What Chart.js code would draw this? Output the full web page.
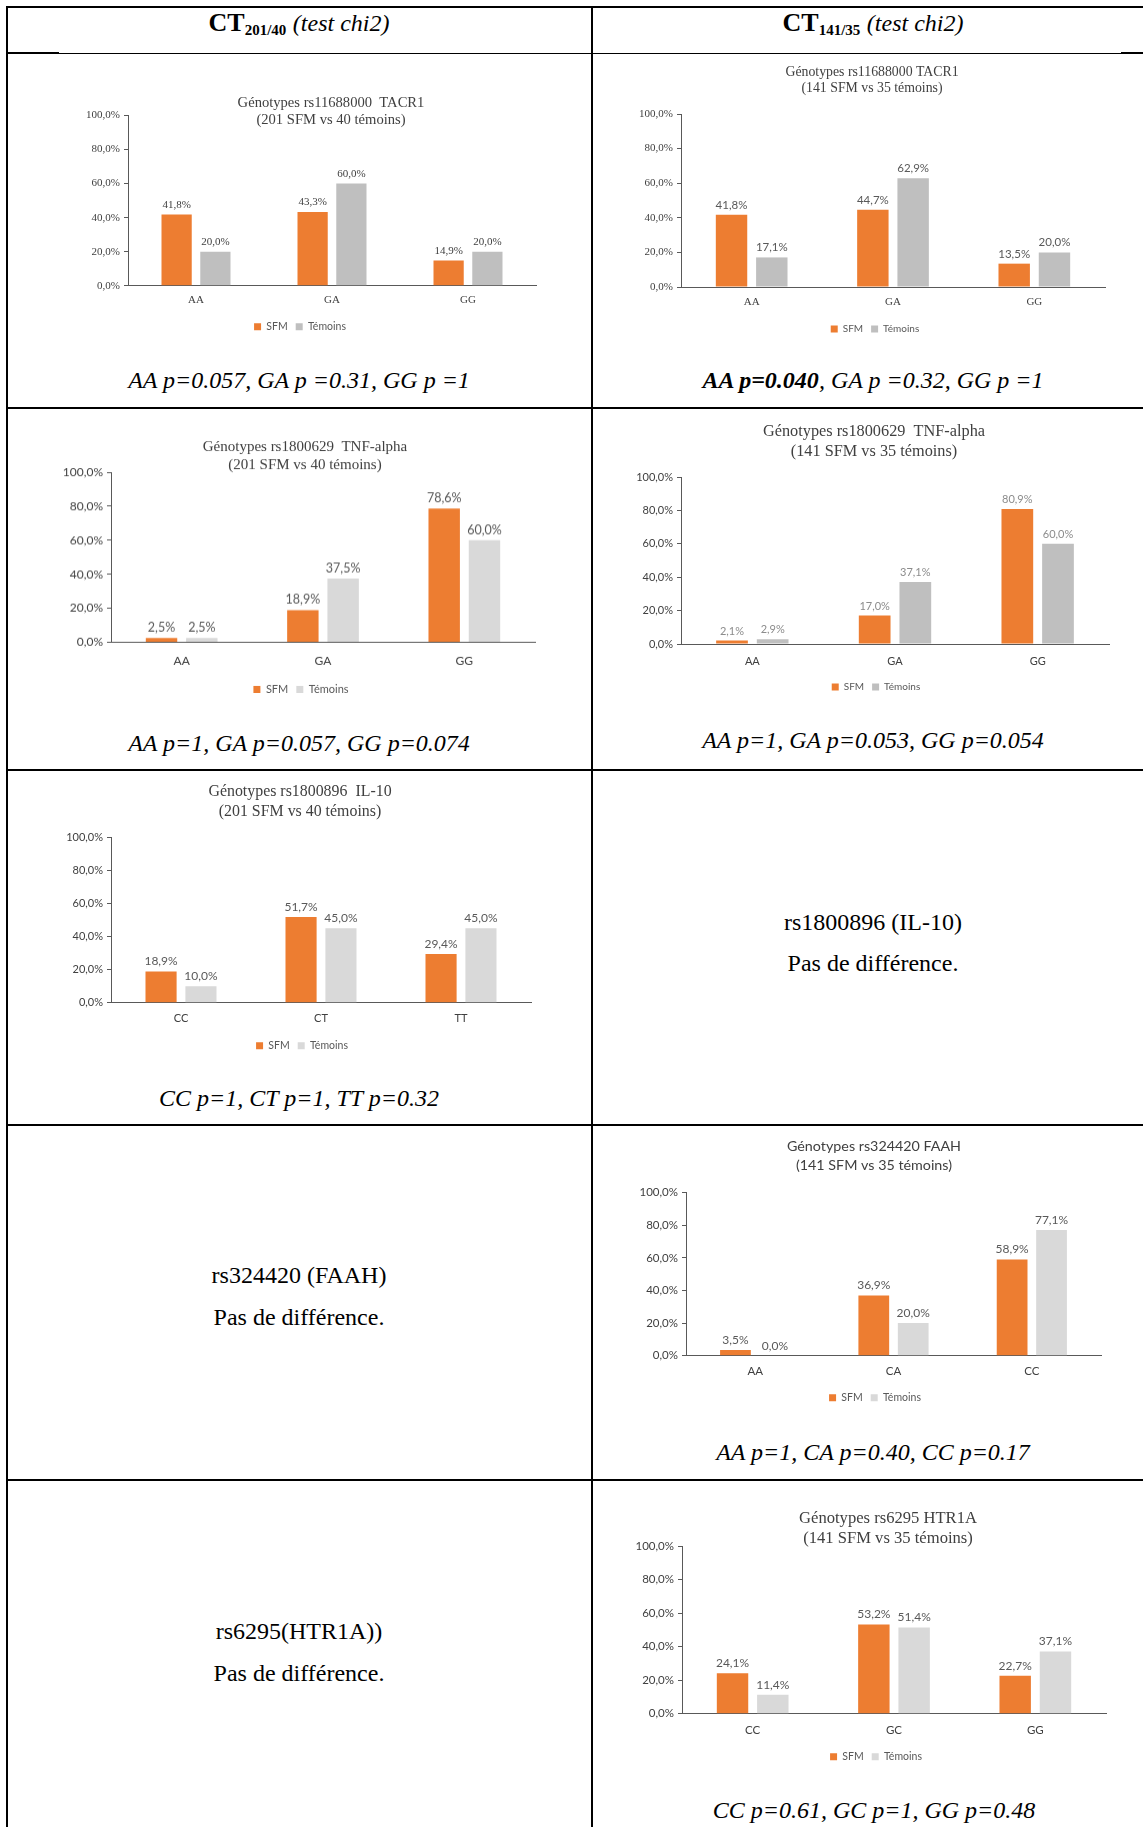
<!DOCTYPE html>
<html>
<head>
<meta charset="utf-8">
<script src="https://cdn.jsdelivr.net/npm/chart.js@4.4.1/dist/chart.umd.min.js"></script>
<style>
  body { margin: 0; background: #fff; }
  #page { position: relative; width: 1143px; height: 1827px; overflow: hidden; background: #fff; }
  .ln { position: absolute; background: #000; }
  .txt { position: absolute; transform: translate(-50%, -50%); white-space: nowrap;
         font-family: 'Liberation Serif', 'Times New Roman', serif; color: #000; }
  .hd { font-size: 26px; }
  .hd sub { font-size: 15px; vertical-align: -4px; }
  .hd i { font-weight: normal; font-size: 24px; }
  .pv { font-size: 24px; font-style: italic; }
  .cell { font-size: 24px; }
  canvas { position: absolute; }
</style>
</head>
<body>
<div id="page">
  <!-- table rules -->
  <div class="ln" style="left:6px;top:6px;width:1137px;height:2px"></div>
  <div class="ln" style="left:6px;top:6px;width:2px;height:1821px"></div>
  <div class="ln" style="left:591px;top:6px;width:2px;height:1821px"></div>
  <div class="ln" style="left:6px;top:53px;width:1137px;height:1px"></div>
  <div class="ln" style="left:6px;top:52px;width:53px;height:2px"></div>
  <div class="ln" style="left:1121px;top:52px;width:22px;height:2px"></div>
  <div class="ln" style="left:6px;top:407px;width:1137px;height:2px"></div>
  <div class="ln" style="left:6px;top:769px;width:1137px;height:2px"></div>
  <div class="ln" style="left:6px;top:1124px;width:1137px;height:2px"></div>
  <div class="ln" style="left:6px;top:1479px;width:1137px;height:2px"></div>

  <!-- header -->
  <div class="txt hd" style="left:299px;top:23px"><b>CT<sub>201/40</sub></b> <i>(test chi2)</i></div>
  <div class="txt hd" style="left:873px;top:23px"><b>CT<sub>141/35</sub></b> <i>(test chi2)</i></div>

  <!-- p-values -->
  <div class="txt pv" style="left:299px;top:380px">AA p=0.057, GA p =0.31, GG p =1</div>
  <div class="txt pv" style="left:873px;top:380px"><b>AA p=0.040</b>, GA p =0.32, GG p =1</div>
  <div class="txt pv" style="left:299px;top:743px">AA p=1, GA p=0.057, GG p=0.074</div>
  <div class="txt pv" style="left:873px;top:740px">AA p=1, GA p=0.053, GG p=0.054</div>
  <div class="txt pv" style="left:299px;top:1098px">CC p=1, CT p=1, TT p=0.32</div>
  <div class="txt pv" style="left:873px;top:1452px">AA p=1, CA p=0.40, CC p=0.17</div>
  <div class="txt pv" style="left:874px;top:1810px">CC p=0.61, GC p=1, GG p=0.48</div>

  <!-- text-only cells -->
  <div class="txt cell" style="left:873px;top:922px">rs1800896 (IL-10)</div>
  <div class="txt cell" style="left:873px;top:963px">Pas de différence.</div>
  <div class="txt cell" style="left:299px;top:1275px">rs324420 (FAAH)</div>
  <div class="txt cell" style="left:299px;top:1317px">Pas de différence.</div>
  <div class="txt cell" style="left:299px;top:1631px">rs6295(HTR1A))</div>
  <div class="txt cell" style="left:299px;top:1673px">Pas de différence.</div>
</div>

<script>
// --- DATA --- //
const seriesNames = ['SFM', 'Témoins'];
const yTicks = [0, 20, 40, 60, 80, 100];

const title1 = ['Génotypes rs11688000  TACR1', '(201 SFM vs 40 témoins)'];
const cats1 = ['AA', 'GA', 'GG'];
const sfm1 = [41.8, 43.3, 14.9];
const tem1 = [20.0, 60.0, 20.0];

const title2 = ['Génotypes rs11688000 TACR1', '(141 SFM vs 35 témoins)'];
const cats2 = ['AA', 'GA', 'GG'];
const sfm2 = [41.8, 44.7, 13.5];
const tem2 = [17.1, 62.9, 20.0];

const title3 = ['Génotypes rs1800629  TNF-alpha', '(201 SFM vs 40 témoins)'];
const cats3 = ['AA', 'GA', 'GG'];
const sfm3 = [2.5, 18.9, 78.6];
const tem3 = [2.5, 37.5, 60.0];

const title4 = ['Génotypes rs1800629  TNF-alpha', '(141 SFM vs 35 témoins)'];
const cats4 = ['AA', 'GA', 'GG'];
const sfm4 = [2.1, 17.0, 80.9];
const tem4 = [2.9, 37.1, 60.0];

const title5 = ['Génotypes rs1800896  IL-10', '(201 SFM vs 40 témoins)'];
const cats5 = ['CC', 'CT', 'TT'];
const sfm5 = [18.9, 51.7, 29.4];
const tem5 = [10.0, 45.0, 45.0];

const title6 = ['Génotypes rs324420 FAAH', '(141 SFM vs 35 témoins)'];
const cats6 = ['AA', 'CA', 'CC'];
const sfm6 = [3.5, 36.9, 58.9];
const tem6 = [0.0, 20.0, 77.1];

const title7 = ['Génotypes rs6295 HTR1A', '(141 SFM vs 35 témoins)'];
const cats7 = ['CC', 'GC', 'GG'];
const sfm7 = [24.1, 53.2, 22.7];
const tem7 = [11.4, 51.4, 37.1];

// --- STYLES --- //
const SERIF = "'Liberation Serif', 'Times New Roman', serif";
const SANS = "Lato, 'Open Sans', sans-serif";
const ORANGE = '#ED7D31';
const AXIS = '#595959';
const Y_W = 52;

const fmt = v => v.toFixed(1).replace('.', ',') + '%';

// value labels above each bar
const barLabels = {
  id: 'barLabels',
  afterDatasetsDraw(chart, args, opts) {
    const ctx = chart.ctx;
    ctx.save();
    ctx.font = opts.labelFont;
    ctx.fillStyle = opts.labelColor;
    ctx.textAlign = 'center';
    ctx.textBaseline = 'bottom';
    chart.data.datasets.forEach((ds, i) => {
      chart.getDatasetMeta(i).data.forEach((bar, j) => {
        ctx.fillText(fmt(ds.data[j]), bar.x, bar.y - 4);
      });
    });
    ctx.restore();
  }
};

// move title / legend so they are centred where the original had them
const boxShift = {
  id: 'boxShift',
  afterLayout(chart, args, opts) {
    [[chart.titleBlock, opts.titleCx], [chart.legend, opts.legendCx]].forEach(([box, cx]) => {
      if (!box || cx == null) return;
      const dx = cx - opts.canvasLeft - (box.left + box.right) / 2;
      box.left += dx;
      box.right += dx;
    });
  }
};
Chart.register(barLabels, boxShift);

// plot box (l, r, t, b), title / legend centres, title first line y, category y, legend y
const specs = [
  { title: title1, cats: cats1, sfm: sfm1, tem: tem1, grey: '#BFBFBF',
    l: 128, r: 536, t: 115, b: 286, titleCx: 331, legCx: 300,
    titleY: 103, titleFs: 14.6, titleLh: 17, titleFont: SERIF,
    catY: 300, legY: 327, tickFs: 11, tickFont: SERIF, catFs: 11, catFont: SERIF,
    labFont: '11px ' + SERIF, labColor: '#404040', legFs: 10.5 },
  { title: title2, cats: cats2, sfm: sfm2, tem: tem2, grey: '#BFBFBF',
    l: 681, r: 1105, t: 114, b: 287, titleCx: 872, legCx: 875,
    titleY: 72, titleFs: 13.8, titleLh: 16, titleFont: SERIF,
    catY: 302, legY: 329, tickFs: 11, tickFont: SERIF, catFs: 11, catFont: SERIF,
    labFont: '11.5px ' + SANS, labColor: '#595959', legFs: 10 },
  { title: title3, cats: cats3, sfm: sfm3, tem: tem3, grey: '#D9D9D9',
    l: 111, r: 535, t: 472, b: 642, titleCx: 305, legCx: 301,
    titleY: 447, titleFs: 15, titleLh: 18, titleFont: SERIF,
    catY: 661, legY: 689, tickFs: 12, tickFont: SANS, catFs: 12, catFont: SANS,
    labFont: '12.5px ' + SANS, labColor: '#595959', legFs: 11 },
  { title: title4, cats: cats4, sfm: sfm4, tem: tem4, grey: '#BFBFBF',
    l: 681, r: 1109, t: 477, b: 644, titleCx: 874, legCx: 876,
    titleY: 432, titleFs: 16.3, titleLh: 20, titleFont: SERIF,
    catY: 661, legY: 687, tickFs: 11, tickFont: SANS, catFs: 11, catFont: SANS,
    labFont: '11px ' + SANS, labColor: '#8C8C8C', legFs: 10 },
  { title: title5, cats: cats5, sfm: sfm5, tem: tem5, grey: '#D9D9D9',
    l: 111, r: 531, t: 837, b: 1003, titleCx: 300, legCx: 302,
    titleY: 792, titleFs: 15.9, titleLh: 20, titleFont: SERIF,
    catY: 1019, legY: 1046, tickFs: 11, tickFont: SANS, catFs: 11, catFont: SANS,
    labFont: '12px ' + SANS, labColor: '#595959', legFs: 10.5 },
  { title: title6, cats: cats6, sfm: sfm6, tem: tem6, grey: '#D9D9D9',
    l: 686, r: 1101, t: 1192, b: 1356, titleCx: 874, legCx: 875,
    titleY: 1146, titleFs: 14.3, titleLh: 19, titleFont: SANS,
    catY: 1372, legY: 1398, tickFs: 11.5, tickFont: SANS, catFs: 11.5, catFont: SANS,
    labFont: '12px ' + SANS, labColor: '#595959', legFs: 10.5 },
  { title: title7, cats: cats7, sfm: sfm7, tem: tem7, grey: '#D9D9D9',
    l: 682, r: 1106, t: 1546, b: 1714, titleCx: 888, legCx: 876,
    titleY: 1519, titleFs: 16.6, titleLh: 20, titleFont: SERIF,
    catY: 1731, legY: 1757, tickFs: 11.5, tickFont: SANS, catFs: 11.5, catFont: SANS,
    labFont: '12px ' + SANS, labColor: '#595959', legFs: 10.5 }
];

const page = document.getElementById('page');

specs.forEach(s => {
  const legPad = 8;
  const legItem = Math.max(s.legFs, 7);
  const left = s.l - Y_W;
  const right = Math.min(1143, s.r + 8);
  const top = s.titleY - s.titleLh / 2;
  const legTop = s.legY - legPad - legItem / 2;
  const bottom = legTop + legItem + legPad + 10;
  const xAxisH = legTop - s.b;

  const canvas = document.createElement('canvas');
  canvas.width = right - left;
  canvas.height = bottom - top;
  canvas.style.left = left + 'px';
  canvas.style.top = top + 'px';
  canvas.style.width = (right - left) + 'px';
  canvas.style.height = (bottom - top) + 'px';
  page.appendChild(canvas);

  new Chart(canvas, {
    type: 'bar',
    data: {
      labels: s.cats,
      datasets: [
        { label: seriesNames[0], data: s.sfm, backgroundColor: ORANGE },
        { label: seriesNames[1], data: s.tem, backgroundColor: s.grey }
      ]
    },
    options: {
      responsive: false,
      animation: false,
      devicePixelRatio: 1,
      categoryPercentage: 0.57,
      barPercentage: 0.78,
      layout: { padding: { left: 0, top: 0, bottom: 0, right: right - s.r } },
      scales: {
        x: {
          grid: { display: false, drawTicks: false },
          border: { display: true, color: AXIS, width: 1 },
          ticks: {
            padding: s.catY - s.b - 0.6 * s.catFs,
            color: '#404040',
            font: { family: s.catFont, size: s.catFs }
          },
          afterFit: scale => { scale.height = xAxisH; }
        },
        y: {
          min: 0,
          max: 100,
          afterBuildTicks: scale => { scale.ticks = yTicks.map(v => ({ value: v })); },
          grid: { drawOnChartArea: false, drawTicks: true, tickLength: 4, color: AXIS },
          border: { display: true, color: AXIS, width: 1 },
          ticks: {
            padding: 4,
            color: '#404040',
            font: { family: s.tickFont, size: s.tickFs },
            callback: v => fmt(v)
          },
          afterFit: scale => { scale.width = Y_W; }
        }
      },
      plugins: {
        title: {
          display: true,
          text: s.title,
          color: '#404040',
          font: { family: s.titleFont, size: s.titleFs, weight: 'normal', lineHeight: s.titleLh / s.titleFs },
          padding: { top: 0, bottom: s.t - top - 2 * s.titleLh }
        },
        legend: {
          position: 'bottom',
          labels: {
            boxWidth: 7,
            boxHeight: 7,
            padding: legPad,
            color: '#595959',
            font: { family: SANS, size: s.legFs }
          }
        },
        tooltip: { enabled: false },
        barLabels: { labelFont: s.labFont, labelColor: s.labColor },
        boxShift: { canvasLeft: left, titleCx: s.titleCx, legendCx: s.legCx }
      }
    }
  });
});
</script>
</body>
</html>
